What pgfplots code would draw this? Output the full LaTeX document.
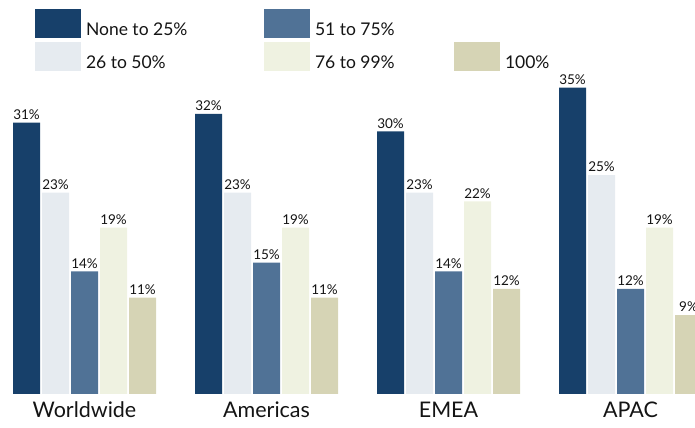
\documentclass[border=0pt]{standalone}
\usepackage{pgfplots}
\pgfplotsset{compat=1.18}
\usepackage{fontspec}
\setmainfont{Lato}
\definecolor{cA}{RGB}{23,64,106}
\definecolor{cB}{RGB}{230,235,240}
\definecolor{cC}{RGB}{80,114,150}
\definecolor{cD}{RGB}{239,242,225}
\definecolor{cE}{RGB}{214,212,181}
\definecolor{txt}{RGB}{20,20,20}
\begin{document}
\begin{tikzpicture}
\path[use as bounding box] (0,0) rectangle (695bp,428bp);
\clip (0,0) rectangle (695bp,428bp);
\begin{axis}[
  at={(-6.5bp,34bp)}, anchor=south west,
  x=182bp, y=8.75bp,
  xmin=-0.5, xmax=3.5, ymin=0, ymax=40,
  clip=false,
  axis line style={draw=none},
  tick style={draw=none},
  major tick length=0pt,
  ytick=\empty,
  xtick={0,1,2,3},
  xticklabels={Worldwide,Americas,EMEA,APAC},
  xticklabel style={font=\fontsize{21.5bp}{24bp}\selectfont, text=txt, yshift=-4.5bp},
  ybar, bar width=27bp,
  every axis plot/.append style={draw=none},
  /pgf/number format/assume math mode=true,
  nodes near coords={\pgfmathprintnumber{\pgfplotspointmeta}\%},
  every node near coord/.append style={font=\fontsize{13.5bp}{15bp}\selectfont, text=txt, inner sep=0pt, yshift=3bp, anchor=south},
  legend image code/.code={\fill[#1,draw=none] (0bp,-2bp) rectangle (46bp,27bp); \path (51bp,0bp);},
  legend style={at={(axis description cs:0.05701,1.1)}, anchor=north west, draw=none, fill=none,
    inner sep=0pt, outer sep=0pt, column sep=0pt, row sep=4bp,
    font=\fontsize{17.5bp}{20bp}\selectfont, text=txt,
    nodes={inner sep=0pt, text depth=0pt}},
  legend columns=3,
  legend cell align=left,
  legend style={cells={anchor=base west}},
]
\addplot[fill=cA, bar shift=-58bp, forget plot] coordinates {(0,31) (1,32) (2,30) (3,35)};
\addplot[fill=cB, bar shift=-29bp, forget plot] coordinates {(0,23) (1,23) (2,23) (3,25)};
\addplot[fill=cC, bar shift=0bp, forget plot] coordinates {(0,14) (1,15) (2,14) (3,12)};
\addplot[fill=cD, bar shift=29bp, forget plot] coordinates {(0,19) (1,19) (2,22) (3,19)};
\addplot[fill=cE, bar shift=58bp, forget plot] coordinates {(0,11) (1,11) (2,12) (3,9)};
\addlegendimage{fill=cA}
\addlegendentry{\makebox[178bp][l]{None to 25\%}}
\addlegendimage{fill=cC}
\addlegendentry{\makebox[139bp][l]{51 to 75\%}}
\addlegendimage{empty legend}
\addlegendentry{}
\addlegendimage{fill=cB}
\addlegendentry{\makebox[178bp][l]{26 to 50\%}}
\addlegendimage{fill=cD}
\addlegendentry{\makebox[139bp][l]{76 to 99\%}}
\addlegendimage{fill=cE}
\addlegendentry{100\%}
\end{axis}
\end{tikzpicture}
\end{document}
